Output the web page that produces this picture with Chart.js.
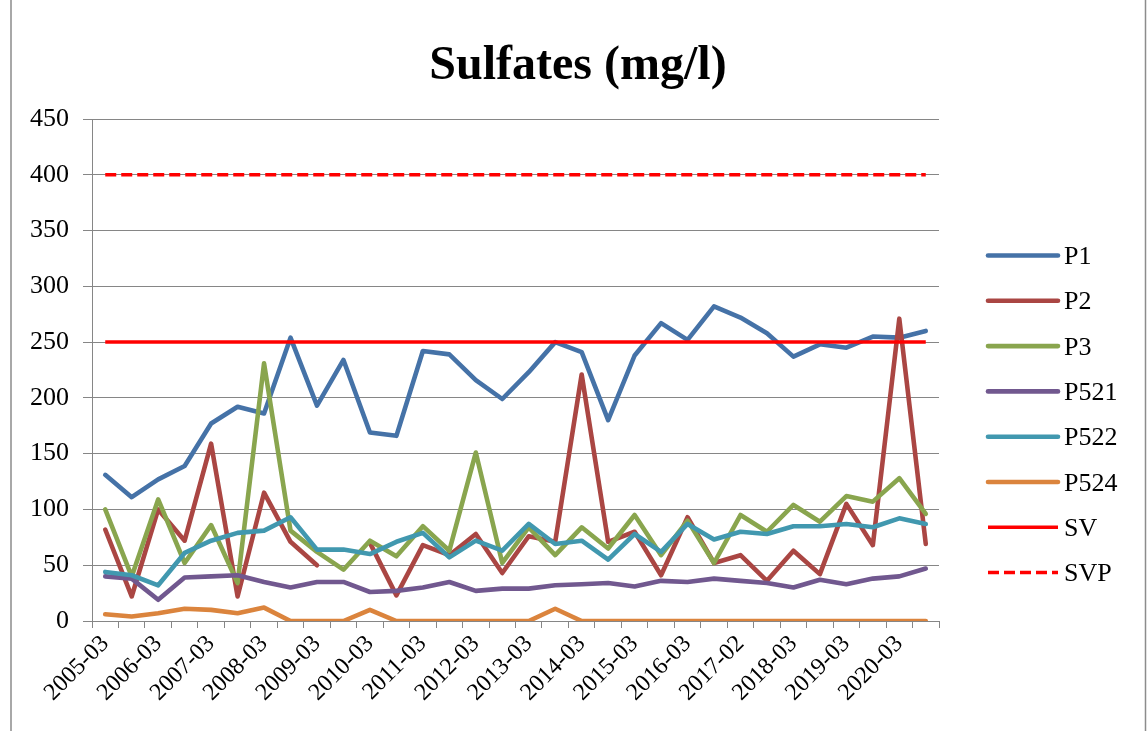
<!DOCTYPE html>
<html>
<head>
<meta charset="utf-8">
<title>Sulfates (mg/l)</title>
<script src="https://cdn.jsdelivr.net/npm/chart.js@4/dist/chart.umd.min.js"></script>
<style>
  html, body { margin: 0; padding: 0; background: #ffffff; }
  #wrap { width: 1148px; height: 731px; position: relative; }
  canvas { display: block; }
</style>
</head>
<body>
<div id="wrap"><canvas id="chart" width="1148" height="731"></canvas></div>
<script>
// Sampling dates (half-yearly campaigns)
const categories = [
  '2005-03', '2005-09', '2006-03', '2006-09', '2007-03', '2007-09', '2008-03', '2008-09',
  '2009-03', '2009-09', '2010-03', '2010-09', '2011-03', '2011-09', '2012-03', '2012-09',
  '2013-03', '2013-09', '2014-03', '2014-09', '2015-03', '2015-09', '2016-03', '2016-09',
  '2017-02', '2017-09', '2018-03', '2018-09', '2019-03', '2019-09', '2020-03', '2020-09'
];

// Sulfate concentrations per well (mg/l)
const p1 = [131, 111, 127, 139, 177, 192, 186, 254, 193, 234, 169, 166, 242, 239, 216, 199,
            223, 250, 241, 180, 238, 267, 252, 282, 272, 258, 237, 248, 245, 255, 254, 260];
const p2 = [82, 22, 100, 72, 159, 22, 115, 71, 50, null, 70, 23, 68, 59, 78, 43,
            76, 71, 221, 71, 80, 41, 93, 52, 59, 36, 63, 42, 105, 68, 271, 69];
const p3 = [100, 40, 109, 52, 86, 34, 231, 81, 62, 46, 72, 58, 85, 63, 151, 52,
            84, 59, 84, 65, 95, 59, 90, 52, 95, 80, 104, 89, 112, 107, 128, 96];
const p521 = [40, 38, 19, 39, 40, 41, 35, 30, 35, 35, 26, 27, 30, 35, 27, 29,
              29, 32, 33, 34, 31, 36, 35, 38, 36, 34, 30, 37, 33, 38, 40, 47];
const p522 = [44, 41, 32, 61, 72, 79, 81, 93, 64, 64, 60, 71, 79, 57, 72, 63,
              87, 69, 72, 55, 78, 62, 87, 73, 80, 78, 85, 85, 87, 84, 92, 87];
const p524 = [6, 4, 7, 11, 10, 7, 12, 0, 0, 0, 10, 0, 0, 0, 0, 0,
              0, 11, 0, 0, 0, 0, 0, 0, 0, 0, 0, 0, 0, 0, 0, 0];

// Guide values (SV) and parametric values (SVP)
const sv = [250, 250, 250, 250, 250, 250, 250, 250, 250, 250, 250, 250, 250, 250, 250, 250,
            250, 250, 250, 250, 250, 250, 250, 250, 250, 250, 250, 250, 250, 250, 250, 250];
const svp = [400, 400, 400, 400, 400, 400, 400, 400, 400, 400, 400, 400, 400, 400, 400, 400,
             400, 400, 400, 400, 400, 400, 400, 400, 400, 400, 400, 400, 400, 400, 400, 400];

// Y axis range and step
const yMin = 0, yMax = 450, yStep = 50;

const chartTitle = 'Sulfates (mg/l)';
const SERIF = "'Liberation Serif', 'Times New Roman', serif";
const GRID = '#868686';

function seriesLine(label, data, color, order, extra) {
  return Object.assign({
    label, data, order,
    borderColor: color,
    backgroundColor: color,
    borderWidth: 4.6,
    pointRadius: 0,
    pointHoverRadius: 0,
    tension: 0,
    fill: false,
    spanGaps: false,
    borderCapStyle: 'round',
    borderJoinStyle: 'round'
  }, extra || {});
}

// Title centred across the whole figure
const wideTitle = {
  id: 'wideTitle',
  afterDraw(chart) {
    const ctx = chart.ctx;
    ctx.save();
    ctx.fillStyle = '#000000';
    ctx.font = 'bold 48px ' + SERIF;
    ctx.textAlign = 'center';
    ctx.textBaseline = 'alphabetic';
    ctx.fillText(chartTitle, 578, 79);
    ctx.restore();
  }
};

// Right-hand legend, one line sample + name per series
const sideLegend = {
  id: 'sideLegend',
  afterDraw(chart) {
    const ctx = chart.ctx;
    const x0 = 988, x1 = 1058, tx = 1064;
    const top = 255.5, step = 45.3;
    ctx.save();
    chart.data.datasets.forEach((ds, i) => {
      const y = top + i * step;
      ctx.beginPath();
      ctx.strokeStyle = ds.borderColor;
      ctx.lineWidth = ds.borderWidth;
      ctx.lineCap = ds.borderDash ? 'butt' : (ds.borderCapStyle || 'round');
      ctx.setLineDash(ds.borderDash || []);
      ctx.moveTo(x0, y);
      ctx.lineTo(x1, y);
      ctx.stroke();
      ctx.setLineDash([]);
      ctx.fillStyle = '#000000';
      ctx.font = '26px ' + SERIF;
      ctx.textAlign = 'left';
      ctx.textBaseline = 'alphabetic';
      ctx.fillText(ds.label, tx, y + 8.6);
    });
    ctx.restore();
  }
};

// Thin frame at the left and right edges
const frame = {
  id: 'frame',
  beforeDraw(chart) {
    const ctx = chart.ctx;
    ctx.save();
    ctx.fillStyle = '#ffffff';
    ctx.fillRect(0, 0, chart.width, chart.height);
    ctx.strokeStyle = '#8c8c8c';
    ctx.lineWidth = 1.5;
    ctx.beginPath();
    ctx.moveTo(11, 0); ctx.lineTo(11, chart.height);
    ctx.moveTo(1145.5, 0); ctx.lineTo(1145.5, chart.height);
    ctx.stroke();
    ctx.restore();
  }
};

new Chart(document.getElementById('chart'), {
  type: 'line',
  data: {
    labels: categories,
    datasets: [
      seriesLine('P1', p1, '#4572A7', 8),
      seriesLine('P2', p2, '#AA4643', 7),
      seriesLine('P3', p3, '#89A54E', 6),
      seriesLine('P521', p521, '#71588F', 5),
      seriesLine('P522', p522, '#4198AF', 4),
      seriesLine('P524', p524, '#DB843D', 3),
      seriesLine('SV', sv, '#FF0000', 2, { borderWidth: 3.5, borderCapStyle: 'butt' }),
      seriesLine('SVP', svp, '#FF0000', 1, { borderWidth: 3.5, borderDash: [11, 5], borderCapStyle: 'butt' })
    ]
  },
  options: {
    responsive: false,
    animation: false,
    devicePixelRatio: 1,
    layout: { padding: { left: 0, right: 209, top: 119, bottom: 0 } },
    plugins: {
      legend: { display: false },
      tooltip: { enabled: false },
      title: { display: false }
    },
    scales: {
      x: {
        type: 'category',
        offset: true,
        grid: {
          offset: true,
          drawOnChartArea: false,
          drawTicks: true,
          tickLength: 7,
          color: GRID,
          lineWidth: 1
        },
        border: { color: GRID, width: 1 },
        ticks: {
          autoSkip: false,
          minRotation: 45,
          maxRotation: 45,
          padding: 2,
          color: '#000000',
          font: { family: SERIF, size: 24 },
          callback: (value, index) => (index % 2 === 0 ? categories[index] : '')
        },
        afterFit: (scale) => { scale.height = 110; }
      },
      y: {
        min: yMin,
        max: yMax,
        grid: { color: GRID, lineWidth: 1, tickLength: 9, drawTicks: true },
        border: { color: GRID, width: 1 },
        ticks: {
          stepSize: yStep,
          padding: 14,
          color: '#000000',
          font: { family: SERIF, size: 26 }
        },
        afterFit: (scale) => { scale.width = 92; }
      }
    }
  },
  plugins: [frame, sideLegend, wideTitle]
});
</script>
</body>
</html>
